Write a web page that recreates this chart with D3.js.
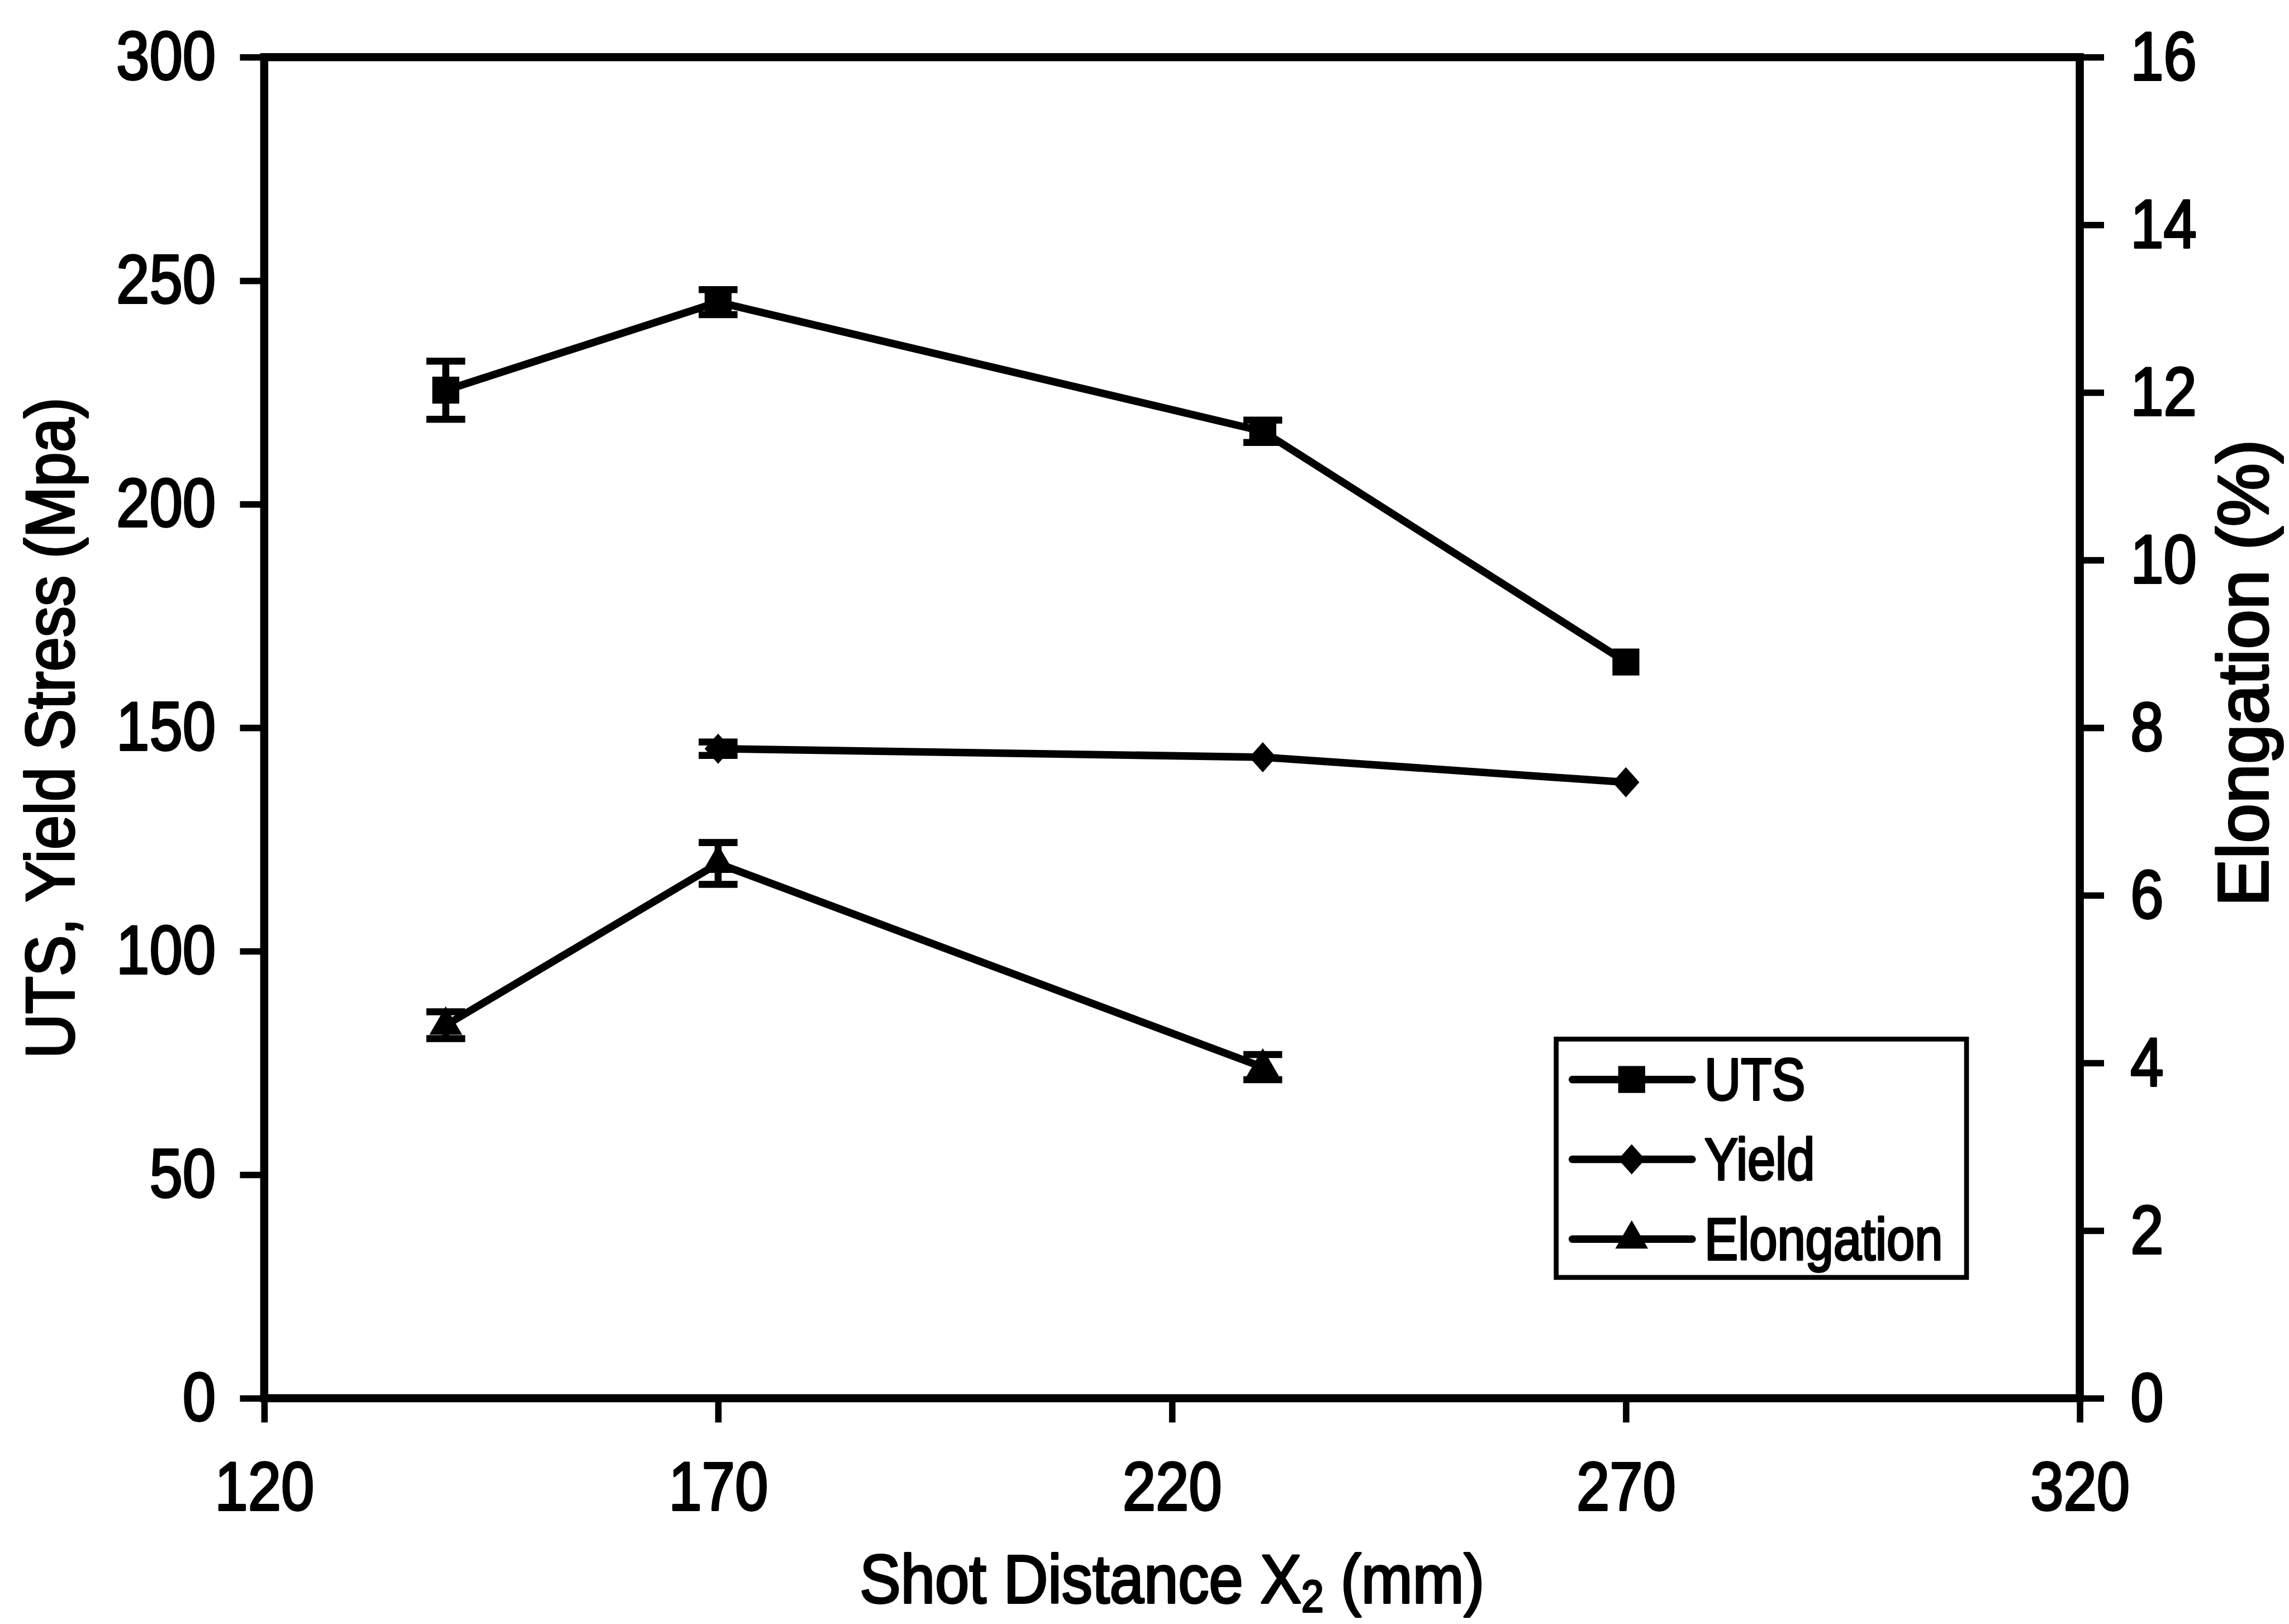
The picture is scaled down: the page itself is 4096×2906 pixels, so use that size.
<!DOCTYPE html>
<html>
<head>
<meta charset="utf-8">
<script src="https://cdn.jsdelivr.net/npm/d3@7"></script>
<style>
  html, body { margin: 0; padding: 0; background: #fff; }
  svg { display: block; }
  text { font-family: "Liberation Sans", Arial, Helvetica, sans-serif; fill: #000; }
</style>
</head>
<body>
<svg id="chart"></svg>
<script>
// Shot distance (mm)
const shotDistance = [140, 170, 230, 270];

// Ultimate tensile strength (MPa) with error half-widths
const utsX = [140, 170, 230, 270];
const utsValues = [225.5, 245.2, 216.3, 164.7];
const utsErrors = [6.5, 2.8, 2.5, 0];

// Yield stress (MPa)
const yieldX = [170, 230, 270];
const yieldValues = [145.3, 143.4, 137.8];
const yieldErrors = [1.5, 0, 0];

// Elongation (%)
const elongX = [140, 170, 230];
const elongValues = [4.45, 6.38, 3.95];
const elongErrors = [0.16, 0.25, 0.15];

// Axis ticks
const xTicks = [120, 170, 220, 270, 320];
const leftTicks = [0, 50, 100, 150, 200, 250, 300];
const rightTicks = [0, 2, 4, 6, 8, 10, 12, 14, 16];

const legendLabels = ["UTS", "Yield", "Elongation"];

// ---- layout (drawn in a 4245 x 3012 frame, scaled to the window) ----
const W = 4096, H = 2906;
const K = W / 4245;
const L = 490, R = 3857, T = 106, B = 2593;
const SX = 0.87;          // horizontal squeeze for the narrow typeface
const FS = 127;           // main font size
const TEXT_STROKE = 4;

const svg = d3.select("#chart").attr("width", W).attr("height", H);
svg.append("rect").attr("width", W).attr("height", H).attr("fill", "#fff");
const g = svg.append("g").attr("transform", `scale(${K})`);

const x = d3.scaleLinear().domain([120, 320]).range([L, R]);
const yL = d3.scaleLinear().domain([0, 300]).range([B, T]);
const yR = d3.scaleLinear().domain([0, 16]).range([B, T]);

function styleText(sel, size) {
  sel.attr("font-size", size)
     .attr("stroke", "#000")
     .attr("stroke-width", TEXT_STROKE)
     .attr("stroke-linejoin", "round")
     .attr("fill", "#000");
}

// ---- axes ----
const TICK = 45;
const TICK_W = 12;

const gx = g.append("g").attr("transform", `translate(0,${B})`)
  .call(d3.axisBottom(x).tickValues(xTicks).tickSize(TICK).tickSizeOuter(0).tickFormat(d3.format("d")));
gx.select(".domain").remove();
gx.selectAll(".tick line").attr("stroke", "#000").attr("stroke-width", TICK_W);
gx.selectAll(".tick text")
  .attr("y", 207).attr("dy", null)
  .attr("transform", `scale(${SX},1)`)
  .call(styleText, FS);

const gl = g.append("g").attr("transform", `translate(${L},0)`)
  .call(d3.axisLeft(yL).tickValues(leftTicks).tickSize(TICK).tickSizeOuter(0).tickFormat(d3.format("d")));
gl.select(".domain").remove();
gl.selectAll(".tick line").attr("stroke", "#000").attr("stroke-width", TICK_W);
gl.selectAll(".tick text")
  .attr("x", -90 / SX).attr("y", 41).attr("dy", null)
  .attr("transform", `scale(${SX},1)`)
  .call(styleText, FS);

const gr = g.append("g").attr("transform", `translate(${R},0)`)
  .call(d3.axisRight(yR).tickValues(rightTicks).tickSize(TICK).tickSizeOuter(0).tickFormat(d3.format("d")));
gr.select(".domain").remove();
gr.selectAll(".tick line").attr("stroke", "#000").attr("stroke-width", TICK_W);
gr.selectAll(".tick text")
  .attr("x", 94 / SX).attr("y", 42).attr("dy", null)
  .attr("transform", `scale(${SX},1)`)
  .call(styleText, FS);

// plot frame
g.append("rect")
  .attr("x", L).attr("y", T)
  .attr("width", R - L).attr("height", B - T)
  .attr("fill", "none").attr("stroke", "#000").attr("stroke-width", 15);

// ---- axis titles ----
function titleText(px, py, rot, sx, anchor, size) {
  const tg = g.append("g").attr("transform", `translate(${px},${py}) rotate(${rot}) scale(${sx},1)`);
  return tg.append("text").attr("text-anchor", anchor).call(styleText, size);
}

titleText(137, 1350, -90, 0.9, "middle", FS).text("UTS, Yield Stress (Mpa)");

const xt = titleText((L + R) / 2, 2972, 0, 0.9, "middle", FS);
xt.append("tspan").text("Shot Distance X");
xt.append("tspan").attr("font-size", 82).attr("dy", 17).text("2");
xt.append("tspan").attr("dy", -17).text(" (mm)");

titleText(4206, 1248, -90, 1.0, "middle", 132).text("Elongation (%)");

// ---- series ----
const LINE_W = 14;
const ERR_W = 13;
const CAP = 72;

const squarePath = "M-25,-25H25V25H-25Z";
const diamondPath = "M0,-28L25,0L0,28L-25,0Z";
const trianglePath = d3.symbol(d3.symbolTriangle, 1600)();

const series = [
  { xs: utsX, vals: utsValues, errs: utsErrors, y: yL, marker: squarePath },
  { xs: yieldX, vals: yieldValues, errs: yieldErrors, y: yL, marker: diamondPath },
  { xs: elongX, vals: elongValues, errs: elongErrors, y: yR, marker: trianglePath }
];

series.forEach(s => {
  const pts = s.xs.map((d, i) => ({ x: d, v: s.vals[i], e: s.errs[i] }));
  const line = d3.line().x(d => x(d.x)).y(d => s.y(d.v));

  g.append("path").datum(pts)
    .attr("d", line)
    .attr("fill", "none").attr("stroke", "#000")
    .attr("stroke-width", LINE_W).attr("stroke-linejoin", "round");

  const eb = g.append("g").attr("stroke", "#000").attr("stroke-width", ERR_W);
  pts.filter(d => d.e > 0).forEach(d => {
    const cx = x(d.x), y1 = s.y(d.v - d.e), y2 = s.y(d.v + d.e);
    eb.append("line").attr("x1", cx).attr("x2", cx).attr("y1", y1).attr("y2", y2);
    eb.append("line").attr("x1", cx - CAP / 2).attr("x2", cx + CAP / 2).attr("y1", y1).attr("y2", y1);
    eb.append("line").attr("x1", cx - CAP / 2).attr("x2", cx + CAP / 2).attr("y1", y2).attr("y2", y2);
  });

  g.append("g").selectAll("path").data(pts).join("path")
    .attr("d", s.marker)
    .attr("transform", d => `translate(${x(d.x)},${s.y(d.v)})`)
    .attr("fill", "#000");
});

// ---- legend ----
const LG = { x: 2886, y: 1927, w: 761, h: 442 };
g.append("rect")
  .attr("x", LG.x).attr("y", LG.y).attr("width", LG.w).attr("height", LG.h)
  .attr("fill", "#fff").attr("stroke", "#000").attr("stroke-width", 9);

const rowY = d3.scalePoint().domain(legendLabels).range([2002, 2298]);
legendLabels.forEach((name, i) => {
  const ry = rowY(name);
  g.append("line")
    .attr("x1", 2916).attr("x2", 3138).attr("y1", ry).attr("y2", ry)
    .attr("stroke", "#000").attr("stroke-width", LINE_W)
    .attr("stroke-linecap", "round");
  g.append("path")
    .attr("d", series[i].marker)
    .attr("transform", `translate(3026,${ry})`)
    .attr("fill", "#000");
  const tg = g.append("g").attr("transform", `translate(3161,${ry + 38}) scale(0.85,1)`);
  tg.append("text").attr("text-anchor", "start").call(styleText, 110).text(name);
});
</script>
</body>
</html>
